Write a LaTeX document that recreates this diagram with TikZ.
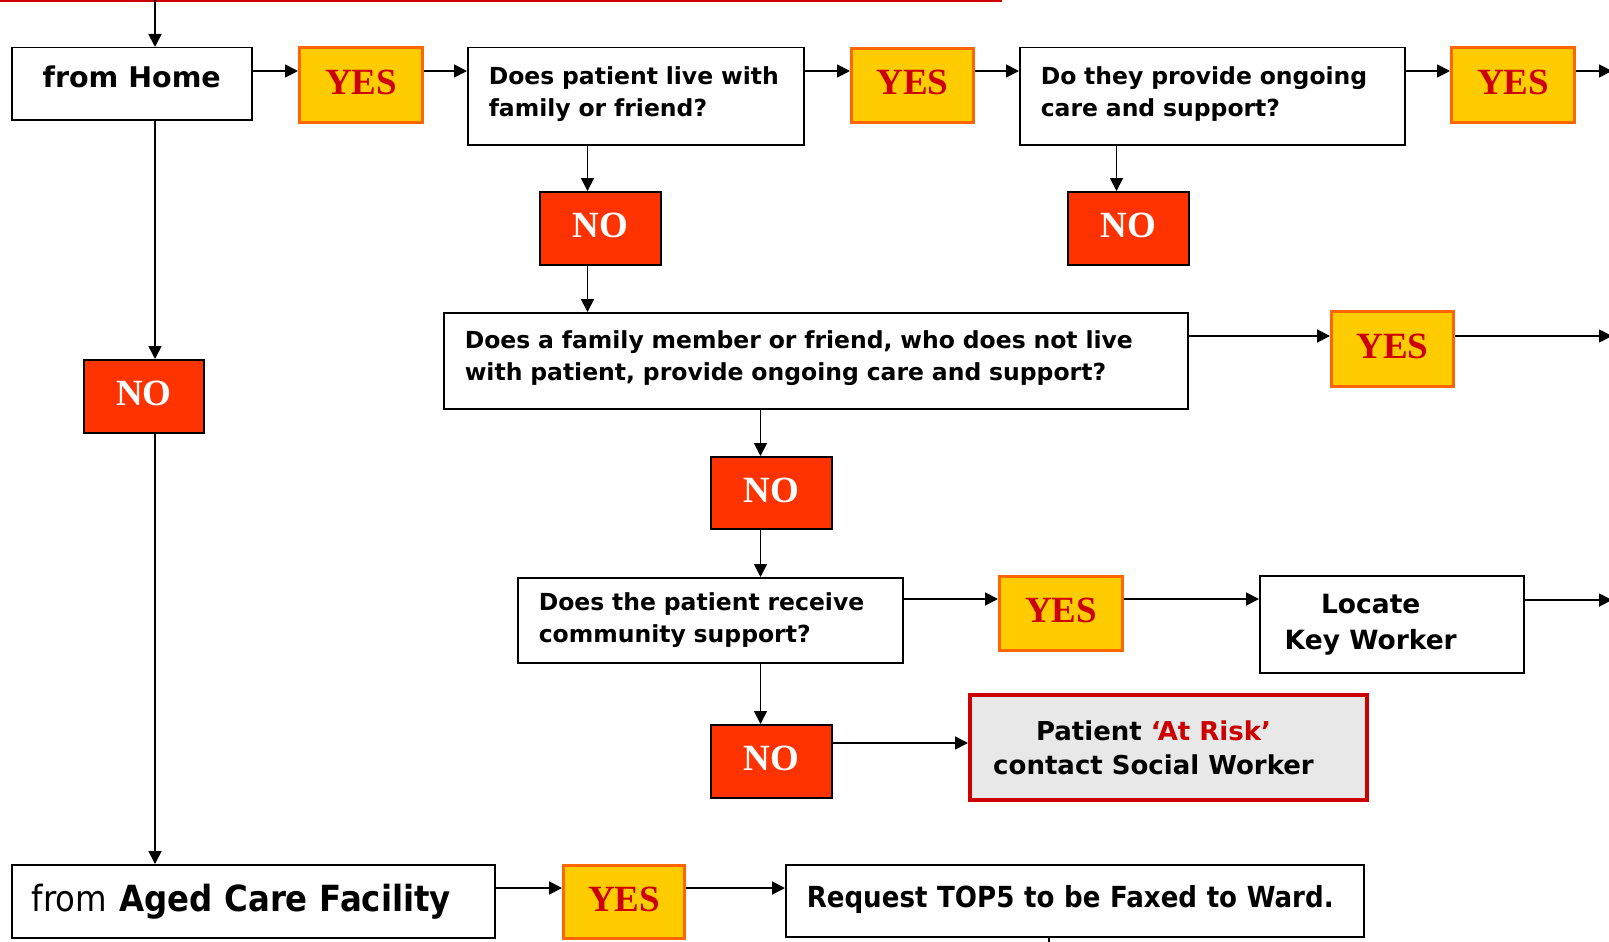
\documentclass[tikz,border=0pt]{standalone}
\usepackage{fontspec}
\setmainfont{DejaVu Sans}
\newfontfamily\yesfont{Liberation Serif}
\newfontfamily\condfont{DejaVu Sans Condensed}
\usetikzlibrary{arrows.meta}
\definecolor{yesfill}{HTML}{FFCC00}
\definecolor{yesline}{HTML}{FF6600}
\definecolor{nofill}{HTML}{FF3300}
\definecolor{riskred}{HTML}{CC0000}
\definecolor{riskfill}{HTML}{E8E8E8}
\tikzset{
	arr/.style={-{Triangle[length=13pt,width=13pt]},line width=1.8pt},
	box/.style={draw,rectangle,line width=1.5pt,anchor=north west,inner sep=0pt,align=left,font=\bfseries\fontsize{23.5}{32}\selectfont},
	yesbox/.style={draw=yesline,fill=yesfill,line width=3pt,anchor=north west,inner sep=0pt,text depth=6pt,text=riskred,font=\yesfont\bfseries\fontsize{37}{40}\selectfont},
	nobox/.style={draw,fill=nofill,line width=2pt,anchor=north west,inner sep=0pt,text depth=6pt,text=white,font=\yesfont\bfseries\fontsize{37}{40}\selectfont},
	riskbox/.style={draw=riskred,fill=riskfill,line width=4pt,anchor=north west,inner sep=0pt,align=center,font=\bfseries\fontsize{26}{34}\selectfont}
}

\begin{document}
\begin{tikzpicture}[x=1pt,y=-1pt]
			\useasboundingbox (0,0) rectangle (1609,942);
			% top row
			\node[box,align=center,minimum width=240pt,minimum height=72pt,text depth=14pt,font=\bfseries\fontsize{28.5}{32}\selectfont] (home) at (11,47) {from Home};
			\node[yesbox,minimum width=123pt,minimum height=75pt] (yes1) at (298,46) {YES};
			\node[box,minimum width=336pt,minimum height=97pt,text width=294pt] (live) at (467,47) {Does patient live with\\family or friend?\vspace*{4pt}};
			\node[yesbox,minimum width=122pt,minimum height=74pt] (yes2) at (850,47) {YES};
			\node[box,minimum width=385pt,minimum height=97pt,text width=343pt] (ongoing) at (1019,47) {Do they provide ongoing\\care and support?\vspace*{4pt}};
			\node[yesbox,minimum width=123pt,minimum height=75pt] (yes3) at (1450,46) {YES};
			\node[nobox,minimum width=121pt,minimum height=73pt] (no1) at (539,191) {NO};
			\node[nobox,minimum width=121pt,minimum height=73pt] (no2) at (1067,191) {NO};
			% middle
			\node[box,minimum width=744pt,minimum height=96pt,text width=702pt] (others) at (443,312) {Does a family member or friend, who does not live\\with patient, provide ongoing care and support?\vspace*{6pt}};
			\node[yesbox,minimum width=122pt,minimum height=75pt] (yes4) at (1330,310) {YES};
			\node[nobox,minimum width=120pt,minimum height=73pt] (noh) at (83,359) {NO};
			\node[nobox,minimum width=121pt,minimum height=72pt] (no3) at (710,456) {NO};
			\node[box,minimum width=385pt,minimum height=85pt,text width=343pt] (comm) at (517,577) {Does the patient receive\\community support?};
			\node[yesbox,minimum width=123pt,minimum height=74pt] (yes5) at (998,575) {YES};
			\node[box,align=center,minimum width=264pt,minimum height=97pt,font=\bfseries\fontsize{26.5}{36}\selectfont] (locate) at (1259,575) {Locate\hspace*{42pt}\\Key Worker\hspace*{42pt}};
			\node[nobox,minimum width=121pt,minimum height=73pt] (no4) at (710,724) {NO};
			\node[riskbox,minimum width=397pt,minimum height=105pt] (risk) at (968,693) {Patient {\color{riskred}‘At Risk’}\hspace*{30pt}\\contact Social Worker\hspace*{30pt}};
			% bottom row
			\node[box,minimum width=483pt,minimum height=73pt,text width=443pt,font=\condfont\fontsize{36}{38}\selectfont] (aged) at (11,864) {from \textbf{Aged Care Facility}};
			\node[yesbox,minimum width=121pt,minimum height=73pt] (yes6) at (562,864) {YES};
			\node[box,minimum width=578pt,minimum height=72pt,text width=536pt,font=\condfont\bfseries\fontsize{29}{32}\selectfont] (request) at (785,864) {\raisebox{8pt}{Request TOP5 to be Faxed to Ward.}};
			% free ends
			\coordinate (redstart) at (0,1);
			\coordinate (redend) at (1002,1);
			\coordinate (topin) at (155,0);
			\coordinate (out1) at (1612,71);
			\coordinate (out2) at (1612,336);
			\coordinate (out3) at (1612,600);
			\coordinate (down) at (1049,945);
			\coordinate (row1) at (0,71);
			\coordinate (row3) at (0,599);
			\coordinate (row4) at (0,743);
			\coordinate (row5) at (0,888);

			\draw[riskred,line width=2.5pt] (redstart) -- (redend);
			\draw[arr] (topin) -- (topin |- home.north);
			\draw[arr] (home.east |- row1) -- (yes1.west |- row1);
			\draw[arr] (yes1.east |- row1) -- (live.west |- row1);
			\draw[arr] (live.east |- row1) -- (yes2.west |- row1);
			\draw[arr] (yes2.east |- row1) -- (ongoing.west |- row1);
			\draw[arr] (ongoing.east |- row1) -- (yes3.west |- row1);
			\draw[arr] (yes3.east |- row1) -- (out1);
			\draw[arr] ([xshift=-13pt]no1.north |- live.south) -- ([xshift=-13pt]no1.north);
			\draw[arr] ([xshift=-12pt]no2.north |- ongoing.south) -- ([xshift=-12pt]no2.north);
			\draw[arr] ([xshift=-13pt]no1.south) -- ([xshift=-13pt]no1.south |- others.north);
			\draw[arr] (others.east |- out2) -- (yes4.west |- out2);
			\draw[arr] (yes4.east |- out2) -- (out2);
			\draw[arr] (topin |- home.south) -- (topin |- noh.north);
			\draw[arr] (topin |- noh.south) -- (topin |- aged.north);
			\draw[arr] ([xshift=-11pt]no3.north |- others.south) -- ([xshift=-11pt]no3.north);
			\draw[arr] ([xshift=-11pt]no3.south) -- ([xshift=-11pt]no3.south |- comm.north);
			\draw[arr] (comm.east |- row3) -- (yes5.west |- row3);
			\draw[arr] (yes5.east |- row3) -- (locate.west |- row3);
			\draw[arr] (locate.east |- out3) -- (out3);
			\draw[arr] ([xshift=-11pt]no4.north |- comm.south) -- ([xshift=-11pt]no4.north);
			\draw[arr] (no4.east |- row4) -- (risk.west |- row4);
			\draw[arr] (aged.east |- row5) -- (yes6.west |- row5);
			\draw[arr] (yes6.east |- row5) -- (request.west |- row5);
			\draw[line width=1.8pt] (request.south -| down) -- (down);
		\end{tikzpicture}
\end{document}
